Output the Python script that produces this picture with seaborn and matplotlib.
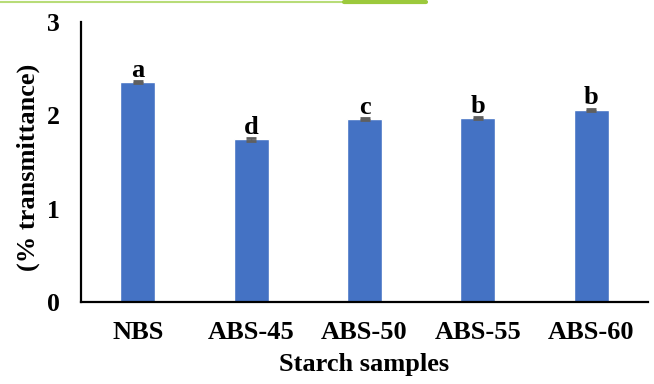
import matplotlib
matplotlib.use("Agg")
import matplotlib.pyplot as plt
import seaborn as sns
from matplotlib.lines import Line2D

samples = ["NBS", "ABS-45", "ABS-50", "ABS-55", "ABS-60"]
transmittance = [2.355, 1.745, 1.96, 1.97, 2.06]
errors = [0.012, 0.015, 0.012, 0.012, 0.012]
letters = ["a", "d", "c", "b", "b"]

sns.set_theme(style="white")
plt.rcParams["font.family"] = ["Liberation Serif", "DejaVu Serif"]
plt.rcParams["font.weight"] = "bold"

fig = plt.figure(figsize=(6.54, 3.84), dpi=100)
ax = fig.add_axes([81 / 654, 1 - 302 / 384, 567 / 654, 280 / 384])

sns.barplot(x=samples, y=transmittance, color="#4472C4", saturation=1,
            width=0.31, ax=ax)
xs = range(len(samples))
ax.errorbar(xs, transmittance, yerr=errors, fmt="none", ecolor="#5f5f5f",
            elinewidth=1, capsize=3.5, capthick=2)

for x, v, e, lab in zip(xs, transmittance, errors, letters):
    ax.text(x, v + e + 0.045, lab, ha="center", va="baseline",
            fontsize=19, fontweight="bold", color="black")

ax.set_ylim(0, 3)
ax.set_yticks([0, 1, 2, 3])
ax.set_xlim(-0.5, 4.5)
for s in ["top", "right"]:
    ax.spines[s].set_visible(False)
for s in ["left", "bottom"]:
    ax.spines[s].set_color("black")
    ax.spines[s].set_linewidth(1.6)
ax.tick_params(axis="y", length=0, pad=15, labelsize=18.5, labelcolor="black")
ax.tick_params(axis="x", length=0, pad=14, labelsize=19, labelcolor="black")
for t in ax.get_xticklabels() + ax.get_yticklabels():
    t.set_fontweight("bold")

ax.set_xlabel("Starch samples", fontsize=19, fontweight="bold", color="black",
              va="center")
ax.xaxis.set_label_coords(0.5, -0.225)
ax.set_ylabel("(% transmittance)", fontsize=19, fontweight="bold", color="black",
              va="center")
ax.yaxis.set_label_coords(-0.0935, 0.48)

# green rule along the top edge
fig.add_artist(Line2D([0, 344 / 654], [1 - 2 / 384] * 2, color="#B8DC78",
                      linewidth=1.5, transform=fig.transFigure))
fig.add_artist(Line2D([344 / 654, 426 / 654], [1 - 1.5 / 384] * 2, color="#9CC93C",
                      linewidth=3, transform=fig.transFigure))

fig.savefig("out.png", dpi=100)
